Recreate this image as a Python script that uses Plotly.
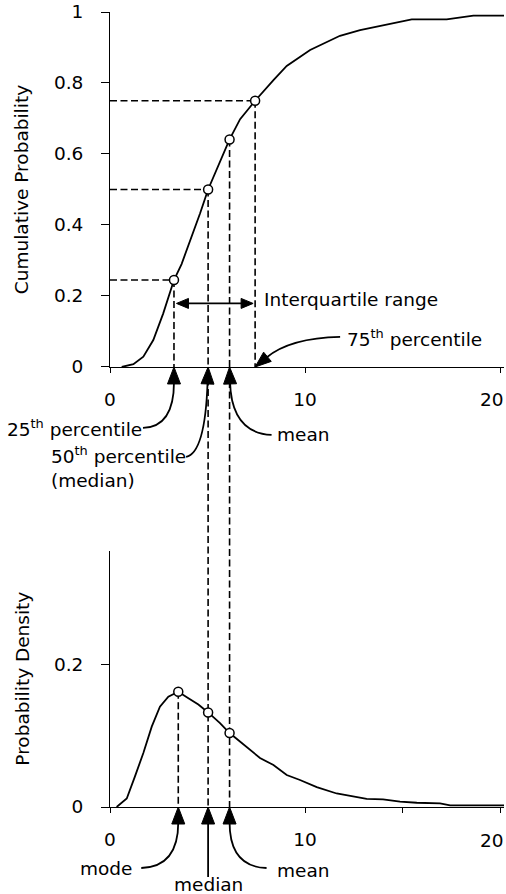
import math
import plotly.graph_objects as go

# ---------------- data ----------------
cdf_x = [0.6, 1.2, 1.71, 2.22, 2.73, 3.0, 3.28, 3.67, 4.27, 4.62, 5.03, 5.6, 6.13,
         6.67, 7.44, 8.38, 9.06, 10.26, 11.79, 12.82, 13.85, 15.21, 15.47, 17.26,
         18.63, 20.2]
cdf_y = [0.0, 0.008, 0.029, 0.076, 0.151, 0.198, 0.245, 0.29, 0.377, 0.433, 0.5,
         0.573, 0.641, 0.698, 0.75, 0.808, 0.848, 0.893, 0.933, 0.949, 0.961,
         0.975, 0.979, 0.979, 0.99, 0.99]

pdf_x = [0.34, 0.86, 1.28, 1.71, 2.14, 2.56, 2.99, 3.5, 4.02, 4.53, 5.03, 5.64,
         6.13, 7.01, 7.69, 8.38, 9.06, 9.74, 10.6, 11.62, 12.48, 13.16, 14.0,
         14.87, 15.73, 16.92, 17.44, 20.2]
pdf_y = [0.0, 0.012, 0.043, 0.076, 0.113, 0.141, 0.155, 0.162, 0.153, 0.144,
         0.133, 0.118, 0.104, 0.085, 0.069, 0.059, 0.045, 0.038, 0.028, 0.019,
         0.0145, 0.0113, 0.0108, 0.0075, 0.006, 0.005, 0.0023, 0.0023]

q25_x, q25_p = 3.28, 0.245
med_x, med_p = 5.03, 0.50
mean_x, mean_p = 6.13, 0.641
q75_x, q75_p = 7.44, 0.75
mode_x, mode_d = 3.50, 0.162
med_d = 0.133
mean_d = 0.104
iqr_level = 0.179

top_yticks = [0, 0.2, 0.4, 0.6, 0.8, 1]
top_yticktext = ["0", "0.2", "0.4", "0.6", "0.8", "1"]
top_xticks = [0, 10, 20]
top_xticktext = ["0", "10", ""]
bot_xticks = [0, 5, 10, 15, 20]
bot_xticktext = ["0", "", "10", "", ""]
bot_yticks = [0, 0.2]
bot_yticktext = ["0", "0.2"]
last_x_tick = 20
last_x_label = "20"   # drawn as a note so it stays inside the right edge

# ---------------- layout constants ----------------
W, H = 506, 894
ML, MR, MT, MB = 110, 2, 12, 87
XR = [0, 20.2]
TOP_DOM = [0.5535, 1.0]
BOT_DOM = [0.0, 0.322]
TOP_R = [0, 1]
BOT_R = [0, 0.36]
PLOT_W = W - ML - MR
PLOT_H = H - MT - MB
PX_PER_X = PLOT_W / (XR[1] - XR[0])

FONT = "DejaVu Sans"
FS = 18.5
BLACK = "#000000"
XLAB_STANDOFF = 11


def ptop(v):
    return TOP_DOM[0] + (v - TOP_R[0]) / (TOP_R[1] - TOP_R[0]) * (TOP_DOM[1] - TOP_DOM[0])


def pbot(v):
    return BOT_DOM[0] + (v - BOT_R[0]) / (BOT_R[1] - BOT_R[0]) * (BOT_DOM[1] - BOT_DOM[0])


def dxu(px):
    return px / PX_PER_X


def dyu(px):
    return px / PLOT_H


shapes = []


def dline(x0, y0, x1, y1):
    shapes.append(dict(type="line", xref="x", yref="paper", x0=x0, y0=y0, x1=x1, y1=y1,
                       line=dict(color=BLACK, width=1.6, dash="7px,3.5px"), layer="below"))


def head(tip_x, tip_y, ux, uy, hl, hw):
    # u: unit vector (px right, px down) from tip toward the tail
    nx, ny = -uy, ux
    bx, by = ux * hl, uy * hl

    def P(a, b):
        return tip_x + dxu(a), tip_y - dyu(b)
    p0 = P(0, 0)
    p1 = P(bx + nx * hw / 2, by + ny * hw / 2)
    p2 = P(bx - nx * hw / 2, by - ny * hw / 2)
    path = "M %f,%f L %f,%f L %f,%f Z" % (p0[0], p0[1], p1[0], p1[1], p2[0], p2[1])
    shapes.append(dict(type="path", xref="x", yref="paper", path=path,
                       fillcolor=BLACK, line=dict(color=BLACK, width=1), layer="above"))


def curved_arrow(tip_x, tip_y, ctrl, end, hl=17, hw=13, lw=1.8):
    cx, cy = ctrl
    L = math.hypot(cx, cy)
    ux, uy = cx / L, cy / L
    head(tip_x, tip_y, ux, uy, hl, hw)

    def P(a, b):
        return tip_x + dxu(a), tip_y - dyu(b)
    s = P(ux * hl * 0.9, uy * hl * 0.9)
    c = P(cx, cy)
    e = P(end[0], end[1])
    path = "M %f,%f Q %f,%f %f,%f" % (s[0], s[1], c[0], c[1], e[0], e[1])
    shapes.append(dict(type="path", xref="x", yref="paper", path=path,
                       line=dict(color=BLACK, width=lw), layer="above"))


# ---------------- dashed guide lines ----------------
top0 = ptop(0)
bot0 = pbot(0)
dline(0, ptop(q25_p), q25_x, ptop(q25_p))
dline(0, ptop(med_p), med_x, ptop(med_p))
dline(0, ptop(q75_p), q75_x, ptop(q75_p))
dline(q25_x, ptop(q25_p), q25_x, top0)
dline(q75_x, ptop(q75_p), q75_x, top0)
dline(med_x, ptop(med_p), med_x, bot0)
dline(mean_x, ptop(mean_p), mean_x, bot0)
dline(mode_x, pbot(mode_d), mode_x, bot0)

# ---------------- arrows ----------------
# interquartile double arrow
iy = ptop(iqr_level)
lx0 = q25_x + dxu(2.5)
rx0 = q75_x - dxu(2)
shapes.append(dict(type="line", xref="x", yref="paper", x0=lx0 + dxu(8), y0=iy,
                   x1=rx0 - dxu(8), y1=iy, line=dict(color=BLACK, width=1.8)))
head(lx0, iy, 1, 0, 12, 10)
head(rx0, iy, -1, 0, 12, 10)

# top chart pointers
curved_arrow(q25_x, top0, (0, 60), (-31, 61))
curved_arrow(med_x, top0, (-3, 86), (-22, 90))
curved_arrow(mean_x, top0, (2, 66), (42, 68))
curved_arrow(q75_x, top0, (35, -29), (85, -30), hl=16, hw=12)

# bottom chart pointers
curved_arrow(mode_x, bot0, (0, 60), (-37, 61))
curved_arrow(med_x, bot0, (0, 45), (0, 70))
curved_arrow(mean_x, bot0, (0, 60), (37, 61))

# ---------------- annotations ----------------
tfont = dict(family=FONT, size=FS, color=BLACK)


def note(text, x, y, xs, ys, xanchor, yanchor="middle", align="left"):
    return dict(text=text, x=x, y=y, xref="x", yref="paper", xshift=xs, yshift=ys,
                xanchor=xanchor, yanchor=yanchor, align=align, showarrow=False,
                font=tfont, borderpad=0)


annotations = [
    note("Interquartile range", q75_x, iy, 8, 4, "left"),
    note("75<sup>th</sup> percentile", q75_x, top0, 91, 29, "left"),
    note("25<sup>th</sup> percentile", q25_x, top0, -31, -61, "right"),
    note("50<sup>th</sup> percentile<br>(median)", med_x, top0, -21, -75, "right",
         yanchor="top"),
    note("mean", mean_x, top0, 46, -68, "left"),
    note("mode", mode_x, bot0, -45, -61, "right"),
    note("median", med_x, bot0, 0, -77, "center"),
    note("mean", mean_x, bot0, 46, -63, "left"),
    note(last_x_label, last_x_tick, top0, 5, -33, "right"),
    note(last_x_label, last_x_tick, bot0, 5, -33, "right"),
    dict(text="Cumulative Probability", x=-(ML - 21.7) / PLOT_W, y=ptop(0.5),
         xref="paper", yref="paper", textangle=-90, showarrow=False,
         xanchor="center", yanchor="middle", font=tfont),
    dict(text="Probability Density", x=-(ML - 21.7) / PLOT_W, y=pbot(0.18),
         xref="paper", yref="paper", textangle=-90, showarrow=False,
         xanchor="center", yanchor="middle", font=tfont),
]

# ---------------- traces ----------------
fig = go.Figure()
fig.add_trace(go.Scatter(x=cdf_x, y=cdf_y, mode="lines", xaxis="x", yaxis="y",
                         line=dict(color=BLACK, width=1.8), showlegend=False,
                         hoverinfo="skip"))
fig.add_trace(go.Scatter(x=[q25_x, med_x, mean_x, q75_x],
                         y=[q25_p, med_p, mean_p, q75_p], mode="markers",
                         xaxis="x", yaxis="y", showlegend=False,
                         marker=dict(symbol="circle", size=9, color="white",
                                     line=dict(color=BLACK, width=1.5))))
fig.add_trace(go.Scatter(x=pdf_x, y=pdf_y, mode="lines", xaxis="x2", yaxis="y2",
                         line=dict(color=BLACK, width=1.8), showlegend=False,
                         hoverinfo="skip"))
fig.add_trace(go.Scatter(x=[mode_x, med_x, mean_x], y=[mode_d, med_d, mean_d],
                         mode="markers", xaxis="x2", yaxis="y2", showlegend=False,
                         marker=dict(symbol="circle", size=9, color="white",
                                     line=dict(color=BLACK, width=1.5))))

axis_common = dict(showgrid=False, zeroline=False, showline=True, linecolor=BLACK,
                   linewidth=1, ticks="outside", tickcolor=BLACK, tickwidth=1,
                   tickfont=tfont, ticklabeloverflow="allow")

fig.update_layout(
    width=W, height=H,
    margin=dict(l=ML, r=MR, t=MT, b=MB),
    paper_bgcolor="white", plot_bgcolor="rgba(0,0,0,0)",
    showlegend=False,
    font=tfont,
    xaxis=dict(domain=[0, 1], range=XR, anchor="y", tickmode="array",
               tickvals=top_xticks, ticktext=top_xticktext, ticklen=5,
               ticklabelstandoff=XLAB_STANDOFF, **axis_common),
    yaxis=dict(domain=TOP_DOM, range=TOP_R, anchor="x", tickmode="array",
               tickvals=top_yticks, ticktext=top_yticktext, ticklen=8,
               ticklabelstandoff=14, **axis_common),
    xaxis2=dict(domain=[0, 1], range=XR, anchor="y2", tickmode="array",
                tickvals=bot_xticks, ticktext=bot_xticktext, ticklen=5,
                ticklabelstandoff=XLAB_STANDOFF, **axis_common),
    yaxis2=dict(domain=BOT_DOM, range=BOT_R, anchor="x2", tickmode="array",
                tickvals=bot_yticks, ticktext=bot_yticktext, ticklen=8,
                ticklabelstandoff=14, **axis_common),
    shapes=shapes,
    annotations=annotations,
)

# remove the default page margin so the 506x894 figure fills the window exactly,
# and keep anything from spilling past the figure box
fig.write_html(
    "out.html",
    config={"staticPlot": True},
    post_script=("document.body.style.margin='0px';"
                 "document.documentElement.style.overflow='hidden';"
                 "document.getElementById('{plot_id}').style.overflow='hidden';"),
)
